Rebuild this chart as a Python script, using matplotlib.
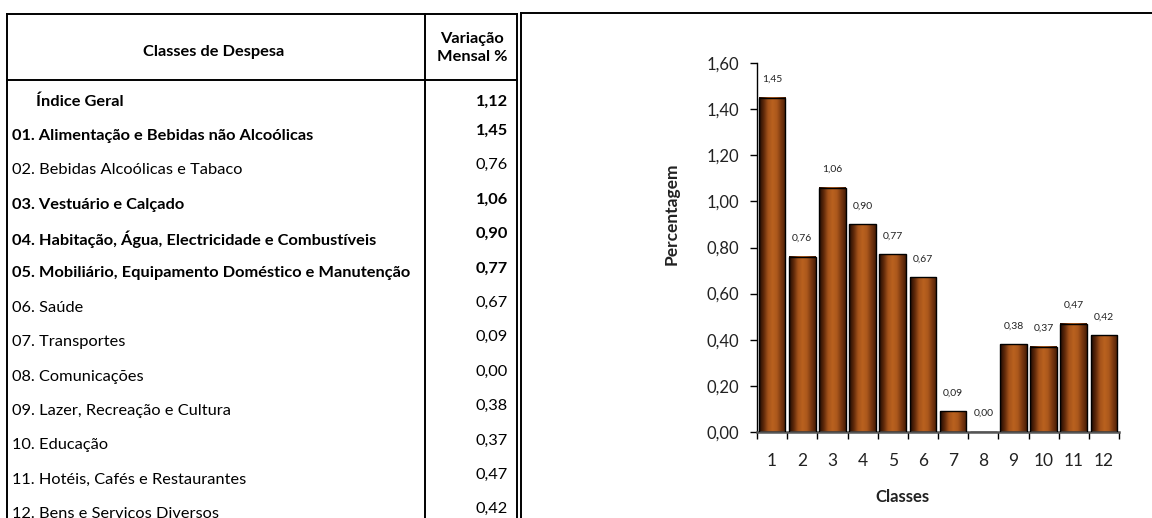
import matplotlib
matplotlib.use('Agg')
import matplotlib.pyplot as plt
import numpy as np
from matplotlib.colors import LinearSegmentedColormap

plt.rcParams['font.family'] = ['Lato', 'DejaVu Sans']

# data
classes = ['Índice Geral',
           '01. Alimentação e Bebidas não Alcoólicas',
           '02. Bebidas Alcoólicas e Tabaco',
           '03. Vestuário e Calçado',
           '04. Habitação, Água, Electricidade e Combustíveis',
           '05. Mobiliário, Equipamento Doméstico e Manutenção',
           '06. Saúde',
           '07. Transportes',
           '08. Comunicações',
           '09. Lazer, Recreação e Cultura',
           '10. Educação',
           '11. Hotéis, Cafés e Restaurantes',
           '12. Bens e Serviços Diversos']
variacao = [1.12, 1.45, 0.76, 1.06, 0.90, 0.77, 0.67, 0.09, 0.00, 0.38, 0.37, 0.47, 0.42]
negrito = [True, True, False, True, True, True, False, False, False, False, False, False, False]
bar_labels = ['1', '2', '3', '4', '5', '6', '7', '8', '9', '10', '11', '12']
bar_values = variacao[1:]


def fmt(v):
    return f'{v:.2f}'.replace('.', ',')


W, H = 1152, 518
fig = plt.figure(figsize=(W / 100, H / 100), dpi=100)

# background axes in pixel coords for table and frames
bg = fig.add_axes([0, 0, 1, 1])
bg.set_xlim(0, W)
bg.set_ylim(H, 0)
bg.axis('off')

lw = 1.4
# table frame
bg.plot([7, 517], [14, 14], color='black', lw=lw)
bg.plot([7, 7], [14, H], color='black', lw=lw)
bg.plot([517, 517], [14, H], color='black', lw=lw)
bg.plot([425, 425], [14, H], color='black', lw=lw)
bg.plot([7, 517], [80, 80], color='black', lw=lw)
# chart frame
bg.plot([521, W], [13, 13], color='black', lw=lw)
bg.plot([521, 521], [13, H], color='black', lw=lw)

fs = 11.8
bg.text(214, 52, 'Classes de Despesa', fontsize=fs, fontweight='bold',
        ha='center', va='center')
bg.text(472, 48, 'Variação\nMensal %', fontsize=fs, fontweight='bold',
        ha='center', va='center', linespacing=1.45)

row_y0 = 100
row_h = 34.4
for i, (name, val, b) in enumerate(zip(classes, variacao, negrito)):
    y = row_y0 + i * row_h
    x = 36 if i == 0 else 12
    fw = 'bold' if b else 'normal'
    bg.text(x, y, name, fontsize=fs, fontweight=fw, ha='left', va='center_baseline')
    bg.text(508, y - (0 if i == 0 else 5), fmt(val), fontsize=fs,
            fontweight=fw, ha='right', va='center_baseline')

# bar chart
ax = fig.add_axes([757 / W, 1 - 432 / H, 362 / W, 369 / H])
x = np.arange(1, 13)
bw = 0.88
cmap = LinearSegmentedColormap.from_list(
    'brown', ['#1e0a02', '#5e280a', '#a4521a', '#ba621f', '#ab581c', '#7a3810', '#4a1e06'])
grad = np.linspace(0, 1, 64).reshape(1, -1)
bars = ax.bar(x, bar_values, width=bw, color='none', edgecolor='black',
              linewidth=1.0, zorder=3)
for rect, v in zip(bars, bar_values):
    x0 = rect.get_x()
    if v > 0:
        ax.imshow(grad, cmap=cmap, aspect='auto', zorder=2,
                  extent=[x0, x0 + rect.get_width(), 0, v])
    ax.text(x0 + rect.get_width() / 2, v + 0.06, fmt(v), fontsize=7.5,
            ha='center', va='bottom', color='#222222')
ax.set_xlim(0.5, 12.5)
ax.set_ylim(0, 1.6)

yt = np.arange(0, 1.61, 0.2)
ax.set_yticks(yt)
ax.set_yticklabels([fmt(t) for t in yt], fontsize=12, color='#222222')
ax.set_xticks(x)
ax.set_xticklabels(bar_labels, fontsize=12.5, color='#222222')
ax.set_xticks(np.arange(0.5, 12.6, 1), minor=True)
ax.tick_params(axis='x', which='major', length=0, pad=15)
ax.tick_params(axis='x', which='minor', length=5, width=1, direction='out')
ax.tick_params(axis='y', length=5, width=1, direction='out', pad=8)
for s in ['top', 'right']:
    ax.spines[s].set_visible(False)
ax.spines['left'].set_linewidth(1.0)
ax.spines['bottom'].set_linewidth(1.8)
ax.spines['bottom'].set_color('#555555')
ax.set_facecolor('none')

bg.text(902, 497, 'Classes', fontsize=12, fontweight='bold', ha='center', va='center',
        color='#222222')
bg.text(672, 214, 'Percentagem', fontsize=12.5, fontweight='bold', ha='center',
        va='center', rotation=90, color='#222222')

fig.savefig('out.png', dpi=100, facecolor='white')
